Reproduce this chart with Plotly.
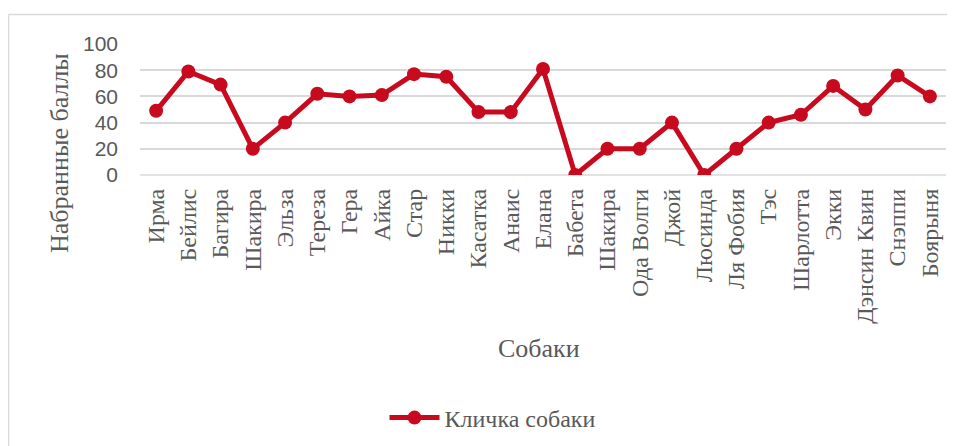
import plotly.graph_objects as go

dogs = ["Ирма", "Бейлис", "Багира", "Шакира", "Эльза", "Тереза", "Гера", "Айка",
        "Стар", "Никки", "Касатка", "Анаис", "Елана", "Бабета", "Шакира ",
        "Ода Волги", "Джой", "Люсинда", "Ля Фобия", "Тэс", "Шарлотта", "Экки",
        "Дэнсин Квин", "Снэппи", "Боярыня"]
scores = [49, 79, 69, 20, 40, 62, 60, 61, 77, 75, 48, 48, 81, 0, 20, 20, 40, 0,
          20, 40, 46, 68, 50, 76, 60]
y_ticks = [0, 20, 40, 60, 80, 100]
series_name = "Кличка собаки"

RED = "#C80A1E"
GRID = "#D9D9D9"
TXT = "#595959"
SERIF = "Liberation Serif, Times New Roman, serif"
SANS = "Liberation Sans, Arial, sans-serif"

x_idx = list(range(len(dogs)))

fig = go.Figure()
fig.add_trace(go.Scatter(
    x=x_idx, y=scores, mode="lines+markers", name=series_name,
    line=dict(color=RED, width=5),
    marker=dict(color=RED, size=14),
))

# page offset of the figure (default body margin)
OFF = 8
W, H = 955 - OFF, 446 - OFF
L, R, T, B = 140 - OFF, 17 - OFF, 44 - OFF, 446 - 175
pw = W - L - R
ph = H - T - B

def px2x(px):
    return (px - OFF - L) / pw

def py2y(py):
    return (H - B - (py - OFF)) / ph

fig.update_layout(
    width=W, height=H,
    margin=dict(l=L, r=R, t=T, b=B, autoexpand=False),
    paper_bgcolor="white", plot_bgcolor="white",
    showlegend=True,
    legend=dict(orientation="h", x=px2x(493), y=py2y(418), xanchor="center",
                yanchor="middle", font=dict(family=SERIF, size=24, color=TXT),
                itemwidth=50),
    xaxis=dict(
        tickmode="array", tickvals=x_idx, ticktext=[d.strip() for d in dogs],
        range=[-0.5, len(dogs) - 0.5], tickangle=-90,
        tickfont=dict(family=SERIF, size=24, color=TXT),
        showgrid=False, zeroline=False, showline=False, ticks="",
        ticklabelstandoff=8, automargin=False,
    ),
    yaxis=dict(
        range=[0, 100], tickvals=y_ticks,
        tickfont=dict(family=SANS, size=21, color=TXT),
        showgrid=True, gridcolor=GRID, gridwidth=1.5,
        zeroline=False, showline=False, ticks="",
        ticklabelstandoff=21, automargin=False,
    ),
    annotations=[
        dict(text="Набранные баллы", xref="paper", yref="paper",
             x=px2x(59), y=py2y(153), xanchor="center", yanchor="middle",
             textangle=-90, showarrow=False,
             font=dict(family=SERIF, size=26, color=TXT)),
        dict(text="Собаки", xref="paper", yref="paper",
             x=px2x(539), y=py2y(349), xanchor="center", yanchor="middle",
             showarrow=False, font=dict(family=SERIF, size=26, color=TXT)),
    ],
    shapes=[
        dict(type="line", xref="paper", yref="paper",
             x0=px2x(8.5), x1=px2x(970), y0=py2y(14.5), y1=py2y(14.5),
             line=dict(color=GRID, width=1.5)),
        dict(type="line", xref="paper", yref="paper",
             x0=px2x(8.5), x1=px2x(8.5), y0=py2y(14.5), y1=py2y(470),
             line=dict(color=GRID, width=1.5)),
        dict(type="line", xref="paper", yref="paper",
             x0=0, x1=1, y0=0, y1=0, layer="below",
             line=dict(color=GRID, width=1.5)),
    ],
)

fig.write_html("out.html")
